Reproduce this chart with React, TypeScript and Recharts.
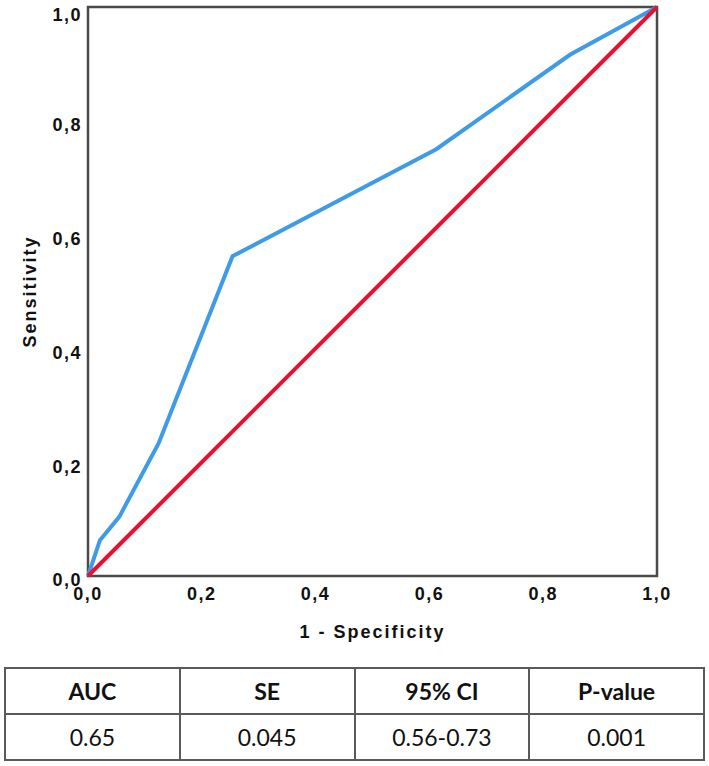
import { LineChart, Line, XAxis, YAxis, ReferenceArea } from "recharts";

// ROC curve points (1 - specificity, sensitivity)
const rocX = [0, 0.021, 0.055, 0.124, 0.254, 0.612, 0.847, 1];
const rocY = [0, 0.063, 0.104, 0.233, 0.562, 0.75, 0.916, 1];
const refX = [0, 1];
const refY = [0, 1];
const axisTicks = [0, 0.2, 0.4, 0.6, 0.8, 1];

const tableHead = ["AUC", "SE", "95% CI", "P-value"];
const tableValues = ["0.65", "0.045", "0.56-0.73", "0.001"];

const rocData = rocX.map((x, i) => ({ x, y: rocY[i] }));
const refData = refX.map((x, i) => ({ x, y: refY[i] }));

const fmt = (v: number) => v.toFixed(1).replace(".", ",");

const tickStyle = { fill: "#111", fontSize: 18, fontWeight: 700, letterSpacing: 1.5, fontFamily: "Liberation Sans, Arial, sans-serif" };
const labelStyle = { fill: "#111", fontSize: 18, fontWeight: 700, letterSpacing: 2, fontFamily: "Liberation Sans, Arial, sans-serif" };

const cell = {
  border: "2px solid #5a5a5a",
  textAlign: "center" as const,
  fontFamily: "Lato, 'Open Sans', sans-serif",
  fontSize: 23,
  color: "#111",
  height: 44,
  padding: 0,
};

const App = () => {
  return (
    <div style={{ position: "absolute", left: 0, top: 0, width: 709, height: 766, background: "#fff" }}>
      <LineChart width={709} height={650} margin={{ top: 7, right: 52, bottom: 10, left: 0 }}>
        <XAxis
          type="number"
          dataKey="x"
          domain={[0, 1]}
          ticks={axisTicks}
          tickFormatter={fmt}
          height={64}
          tickSize={0}
          tickMargin={11}
          tickLine={false}
          axisLine={false}
          tick={tickStyle}
          label={{ value: "1 - Specificity", position: "insideBottom", offset: 2, style: labelStyle }}
        />
        <YAxis
          type="number"
          dataKey="y"
          domain={[0, 1]}
          ticks={axisTicks}
          tickFormatter={fmt}
          width={88}
          tickSize={0}
          tickMargin={6}
          tickLine={false}
          axisLine={false}
          tick={{ ...tickStyle, dy: 4 }}
          label={{ value: "Sensitivity", angle: -90, position: "center", dx: -14, style: labelStyle }}
        />
        <ReferenceArea x1={0} x2={1} y1={0} y2={1} fill="none" stroke="#4a4a4a" strokeWidth={2.5} fillOpacity={0} />
        <Line
          data={rocData}
          dataKey="y"
          type="linear"
          stroke="#3f9ae8"
          strokeWidth={4}
          dot={false}
          isAnimationActive={false}
        />
        <Line
          data={refData}
          dataKey="y"
          type="linear"
          stroke="#e8102e"
          strokeWidth={4}
          dot={false}
          isAnimationActive={false}
        />
      </LineChart>
      <table
        style={{
          position: "absolute",
          left: 4,
          top: 667,
          width: 701,
          borderCollapse: "collapse",
          tableLayout: "fixed",
        }}
      >
        <tbody>
          <tr>
            {tableHead.map((h) => (
              <td key={h} style={{ ...cell, fontWeight: 700 }}>
                {h}
              </td>
            ))}
          </tr>
          <tr>
            {tableValues.map((v) => (
              <td key={v} style={cell}>
                {v}
              </td>
            ))}
          </tr>
        </tbody>
      </table>
    </div>
  );
};

export default App;
